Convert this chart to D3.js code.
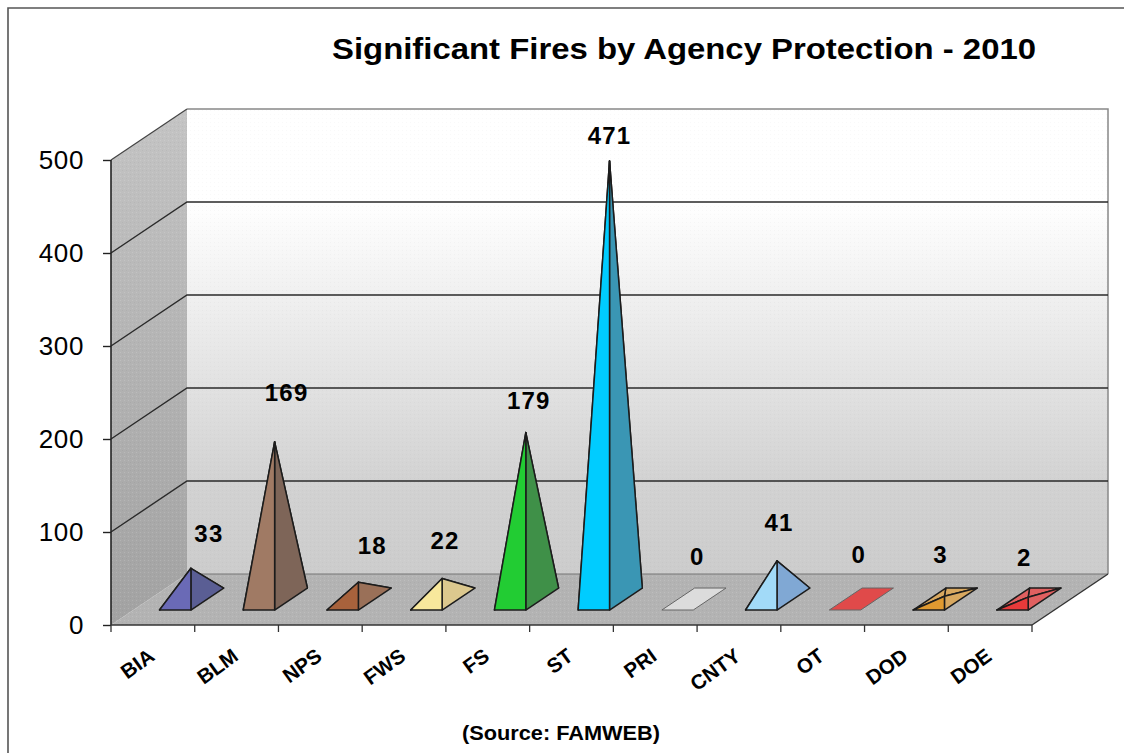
<!DOCTYPE html>
<html><head><meta charset="utf-8">
<script src="https://cdn.jsdelivr.net/npm/d3@7/dist/d3.min.js"></script>
<style>html,body{margin:0;padding:0;background:#fff}svg{display:block}text{font-family:"Liberation Sans",Arial,sans-serif;fill:#000}</style>
</head><body><svg id="c" width="1124" height="753"></svg>
<script>
const categories=["BIA","BLM","NPS","FWS","FS","ST","PRI","CNTY","OT","DOD","DOE"];
const values=[33,169,18,22,179,471,0,41,0,3,2];
const frontColors=["#6a6ab6","#a07a64","#a8623c","#f8e89c","#22cc33","#00ccff","#dcdcdc","#a2daf8","#e04a4a","#e09a30","#e83a3a"];
const sideColors=["#5a5e94","#7e6558","#9a7058","#dcc88e","#3f9048","#3a96b4","#dcdcdc","#80a8d4","#e04a4a","#d8a860","#e06060"];
const yTickValues=[0,100,200,300,400,500];
const titleText="Significant Fires by Agency Protection - 2010";
const sourceText="(Source: FAMWEB)";
// hand-placed data label nudges from the apex of each pyramid
const labelNudgeX=[18,12,14,3,3,0,4,2,-2,-4,-4];
const labelNudgeY=[-35,-49,-37,-38,-32,-25,-43,-38,-45,-42,-40];

const svg=d3.select("#c");
const depthX=76,depthY=51,t0=.294,t1=.725;
const x=d3.scaleBand().domain(categories).range([111,1032]).paddingInner(.625).paddingOuter(.3125);
const y=d3.scaleLinear().domain([0,500]).range([625,160]);
const step=x.step(),x0=111,x1=1032;
const P=(px,v,t)=>[px+depthX*t,y(v)-depthY*t];
const poly=pts=>pts.map(p=>p.join(",")).join(" ");

const defs=svg.append("defs");
const g1=defs.append("linearGradient").attr("id","back").attr("x1",0).attr("x2",0).attr("y1",0).attr("y2",1);
g1.append("stop").attr("offset",.2).attr("stop-color","#ffffff");
g1.append("stop").attr("offset",.8).attr("stop-color","#d2d2d2");
g1.append("stop").attr("offset",1).attr("stop-color","#cccccc");
const g2=defs.append("linearGradient").attr("id","left").attr("x1",0).attr("x2",0).attr("y1",0).attr("y2",1);
g2.append("stop").attr("offset",0).attr("stop-color","#c4c4c4");
g2.append("stop").attr("offset",1).attr("stop-color","#a2a2a2");
const pat=defs.append("pattern").attr("id","dots").attr("width",4).attr("height",4).attr("patternUnits","userSpaceOnUse");
pat.append("rect").attr("x",0).attr("y",0).attr("width",1).attr("height",1).attr("fill","#fff").attr("opacity",.14);
pat.append("rect").attr("x",2).attr("y",2).attr("width",1).attr("height",1).attr("fill","#000").attr("opacity",.04);

// frame
svg.append("path").attr("d","M8,753V8H1124").attr("fill","none").attr("stroke","#555").attr("stroke-width",1.6);

// walls and floor
const left=[P(x0,0,0),P(x0,500,0),P(x0,500,1),P(x0,0,1)];
const back=[P(x0,500,1),P(x1,500,1),P(x1,0,1),P(x0,0,1)];
const floor=[P(x0,0,0),P(x0,0,1),P(x1,0,1),P(x1,0,0)];
svg.append("polygon").attr("points",poly(back)).attr("fill","url(#back)");
svg.append("polygon").attr("points",poly(left)).attr("fill","url(#left)");
svg.append("polygon").attr("points",poly(floor)).attr("fill","#b3b3b3");
[left,floor].forEach(p=>svg.append("polygon").attr("points",poly(p)).attr("fill","url(#dots)"));
svg.append("polygon").attr("points",poly(back)).attr("fill","url(#dots)").attr("opacity",.6);
svg.append("polyline").attr("points",poly([P(x0,500,1),P(x1,500,1),P(x1,0,1)])).attr("fill","none").attr("stroke","#888").attr("stroke-width",1.5);
svg.append("line").attr("x1",P(x0,0,1)[0]).attr("y1",P(x0,0,1)[1]).attr("x2",P(x1,0,1)[0]).attr("y2",P(x1,0,1)[1]).attr("stroke","#777").attr("stroke-width",1.2);

// gridlines
svg.append("g").selectAll("polyline").data(yTickValues.filter(v=>v>0&&v<500)).join("polyline")
 .attr("points",v=>poly([P(x0,v,0),P(x0,v,1),P(x1,v,1)]))
 .attr("fill","none").attr("stroke","#2a2a2a").attr("stroke-width",1.4);
svg.append("line").attr("x1",P(x0,500,0)[0]).attr("y1",P(x0,500,0)[1]).attr("x2",P(x0,500,1)[0]).attr("y2",P(x0,500,1)[1]).attr("stroke","#444").attr("stroke-width",1.2);

// axes
const yAxis=d3.axisLeft(y).tickValues(yTickValues).tickSize(8).tickPadding(19);
const ya=svg.append("g").attr("transform",`translate(${x0},0)`).call(yAxis);
ya.select(".domain").attr("stroke","#222").attr("stroke-width",1.6).attr("d",`M0,${y(500)}V${y(0)}`);
ya.selectAll(".tick line").attr("stroke","#222").attr("stroke-width",1.4);
ya.selectAll("text").attr("font-size",26).attr("font-family",'"Liberation Sans"').attr("fill","#000").attr("letter-spacing",.6);

const xAxis=d3.axisBottom(x).tickSize(0).tickPadding(0);
const xa=svg.append("g").attr("transform",`translate(0,${y(0)})`).call(xAxis);
xa.select(".domain").remove();
xa.selectAll(".tick line").remove();
xa.selectAll("text").attr("font-size",20.5).attr("font-weight","bold").attr("font-family",'"Liberation Sans"').attr("fill","#000")
 .attr("text-anchor","end").attr("dy",0).attr("y",0)
 .attr("transform","translate(3,34) rotate(-36)");
svg.append("line").attr("x1",x0).attr("y1",y(0)).attr("x2",x1).attr("y2",y(0)).attr("stroke","#333").attr("stroke-width",1.4);
svg.append("line").attr("x1",P(x1,0,0)[0]).attr("y1",P(x1,0,0)[1]).attr("x2",P(x1,0,1)[0]).attr("y2",P(x1,0,1)[1]).attr("stroke","#333").attr("stroke-width",1.4);
svg.append("g").selectAll("line").data(d3.range(categories.length+1)).join("line")
 .attr("x1",i=>x0+i*step).attr("x2",i=>x0+i*step).attr("y1",y(0)).attr("y2",y(0)+7)
 .attr("stroke","#333").attr("stroke-width",1.3);

// pyramids
categories.forEach((c,i)=>{
 const v=values[i],l=x(c),r=l+x.bandwidth();
 const FL=P(l,0,t0),FR=P(r,0,t0),BR=P(r,0,t1),BL=P(l,0,t1);
 const apex=[FR[0],y(v)-depthY*(t0+t1)/2];
 const g=svg.append("g").attr("stroke-linejoin","round");
 if(v===0){
  g.append("polygon").attr("points",poly([FL,FR,BR,BL])).attr("fill",frontColors[i]).attr("stroke","#666").attr("stroke-width",1);
 } else {
  const st=g=>g.attr("stroke","#1c1c1c").attr("stroke-width",1.5);
  g.append("polygon").attr("points",poly([BL,BR,apex])).attr("fill",sideColors[i]).call(st);
  g.append("polygon").attr("points",poly([FL,BL,apex])).attr("fill",sideColors[i]).call(st);
  g.append("polygon").attr("points",poly([FR,BR,apex])).attr("fill",sideColors[i]).call(st);
  g.append("polygon").attr("points",poly([FL,FR,apex])).attr("fill",frontColors[i]).call(st);
 }
 svg.append("text").attr("x",apex[0]+labelNudgeX[i]).attr("y",apex[1]+labelNudgeY[i]+8.5)
  .attr("text-anchor","middle").attr("font-size",24).attr("letter-spacing",1.2).attr("font-weight","bold").text(v);
});

// titles
svg.append("text").attr("x",684).attr("y",59).attr("text-anchor","middle").attr("font-size",29).attr("font-weight","bold")
 .attr("textLength",704).attr("lengthAdjust","spacingAndGlyphs").text(titleText);
svg.append("text").attr("x",561).attr("y",740).attr("text-anchor","middle").attr("font-size",20).attr("font-weight","bold")
 .attr("textLength",198).attr("lengthAdjust","spacingAndGlyphs").text(sourceText);
</script></body></html>
